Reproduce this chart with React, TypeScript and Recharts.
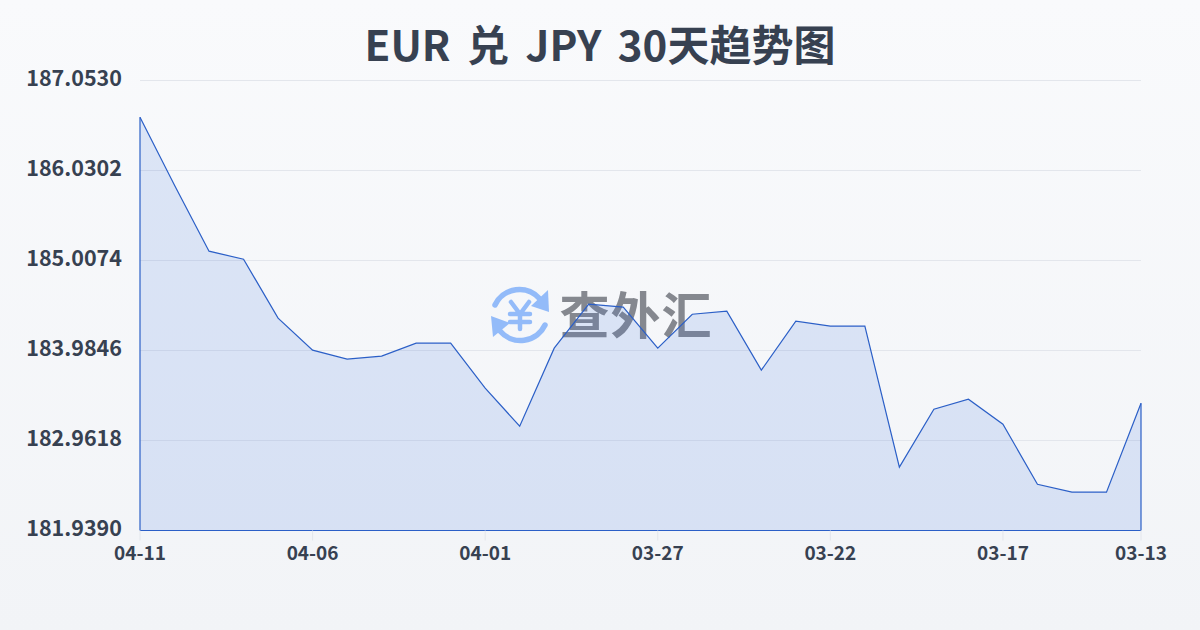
import React from 'react';
import { AreaChart, Area, XAxis, YAxis, CartesianGrid, ReferenceLine } from 'recharts';

const dates = ['04-11','04-10','04-09','04-08','04-07','04-06','04-05','04-04','04-03','04-02','04-01','03-31','03-30','03-29','03-28','03-27','03-26','03-25','03-24','03-23','03-22','03-21','03-20','03-19','03-18','03-17','03-16','03-15','03-14','03-13'];
const rates = [186.636,185.863,185.113,185.022,184.352,183.988,183.886,183.920,184.068,184.068,183.556,183.125,184.011,184.511,184.477,184.011,184.397,184.431,183.761,184.318,184.261,184.261,182.659,183.318,183.431,183.147,182.465,182.375,182.375,183.386];
const xTicks = ['04-11','04-06','04-01','03-27','03-22','03-17','03-13'];
const yTicks = [187.053,186.0302,185.0074,183.9846,182.9618,181.939];
const yMin = 181.939;
const yMax = 187.053;
const data = dates.map((date, i) => ({ date, rate: rates[i] }));

const FONT = "'Noto Sans CJK SC', sans-serif";
const INK = '#374151';
const BLUE = '#2b5fc7';
const LOGO = '#93bbf9';

function Watermark() {
  return (
    <svg width={1200} height={630} style={{ position: 'absolute', left: 0, top: 0 }}>
      <g fill="none" stroke={LOGO} strokeWidth={5.5} strokeLinecap="round">
        <path d="M495 305 A27 27 0 0 1 540 299" />
        <path d="M545 325 A27 27 0 0 1 500 331" />
        <path d="M511 302 L520 314 L529 302 M520 314 L520 329 M510 314 L530 314 M510 322 L530 322" strokeWidth={4.5} />
      </g>
      <path d="M548 290 L549 312 L531 306 Z" fill={LOGO} />
      <path d="M491 316 L510 323 L493 337 Z" fill={LOGO} />
      <text x={636} y={334} textAnchor="middle" fontFamily={FONT} fontWeight={700} fontSize={50} fill="#85888f" letterSpacing={1}>查外汇</text>
    </svg>
  );
}

export default function App() {
  return (
    <div style={{ position: 'absolute', left: 0, top: 0, width: 1200, height: 630, overflow: 'hidden', background: 'linear-gradient(180deg, #f9fafc 0%, #f2f4f7 100%)' }}>
      <Watermark />
      <div style={{ position: 'absolute', left: 0, top: 13, width: 1200, textAlign: 'center', fontFamily: FONT, fontWeight: 700, fontSize: 42, lineHeight: '60px', wordSpacing: 7, color: INK }}>
        EUR 兑 JPY 30天趋势图
      </div>
      <div style={{ position: 'absolute', left: 0, top: 0 }}>
        <AreaChart width={1200} height={630} data={data} margin={{ top: 80.5, right: 59, bottom: 0, left: 0 }}>
          <CartesianGrid vertical={false} stroke="#e3e6ec" strokeWidth={1} />
          <XAxis
            dataKey="date"
            ticks={xTicks}
            interval={0}
            height={99.5}
            tickSize={10}
            tickMargin={6}
            axisLine={false}
            tickLine={{ stroke: '#e3e6ec' }}
            tick={{ fill: INK, fontFamily: FONT, fontWeight: 700, fontSize: 19 }}
          />
          <YAxis
            domain={[yMin, yMax]}
            ticks={yTicks}
            width={140}
            tickLine={false}
            axisLine={false}
            tickMargin={12}
            tickFormatter={(v: number) => v.toFixed(4)}
            tick={{ fill: INK, fontFamily: FONT, fontWeight: 700, fontSize: 21.5, dy: -2 }}
          />
          <Area type="linear" dataKey="rate" baseValue={yMin} stroke={BLUE} strokeWidth={1.2} fill="#3b6fe0" fillOpacity={0.15} isAnimationActive={false} dot={false} activeDot={false} />
          <ReferenceLine segment={[{ x: dates[0], y: yMin }, { x: dates[0], y: rates[0] }]} stroke={BLUE} strokeWidth={1.2} />
          <ReferenceLine segment={[{ x: dates[dates.length - 1], y: yMin }, { x: dates[dates.length - 1], y: rates[rates.length - 1] }]} stroke={BLUE} strokeWidth={1.2} />
          <ReferenceLine segment={[{ x: dates[0], y: yMin }, { x: dates[dates.length - 1], y: yMin }]} stroke={BLUE} strokeWidth={1.2} />
        </AreaChart>
      </div>
    </div>
  );
}
